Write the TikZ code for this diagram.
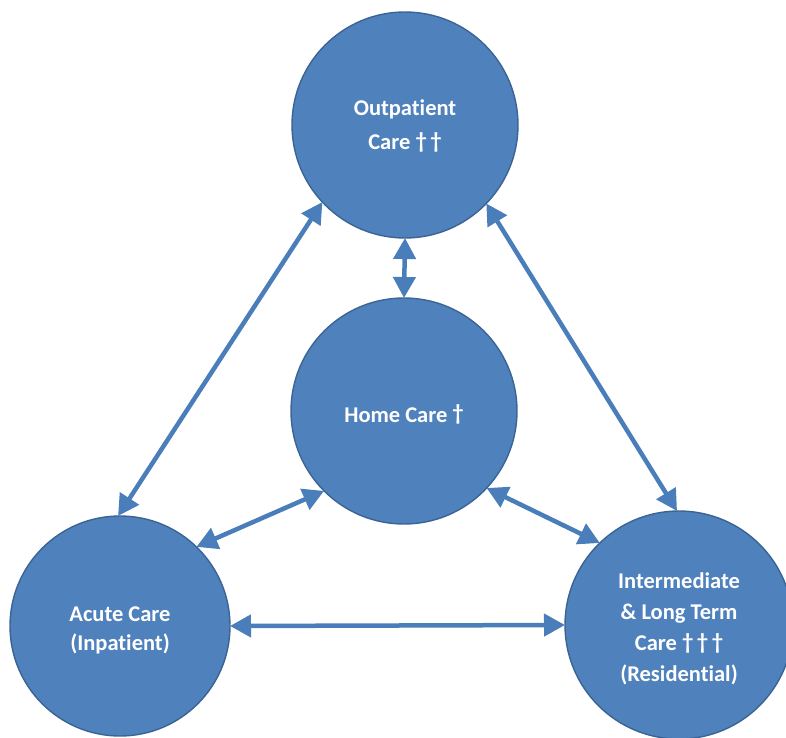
\documentclass[tikz,border=0pt]{standalone}
\usepackage{fontspec}
\setmainfont[Ligatures={NoCommon}]{Carlito}
\usetikzlibrary{arrows.meta}
\definecolor{cfill}{HTML}{4F81BD}
\definecolor{cline}{HTML}{3A6494}
\definecolor{carrow}{HTML}{4A7EBB}
\begin{document}
\begin{tikzpicture}[x=1pt,y=1pt,
  care/.style={circle,draw=cline,line width=1.4pt,fill=cfill,inner sep=0pt,outer sep=0pt},
  lbl/.style={text=white,align=center,inner sep=0pt},
  arr/.style={draw=carrow,line width=4.5pt,
    {Triangle[length=21pt,width=22pt]}-{Triangle[length=21pt,width=22pt]}}]
\useasboundingbox (0,0) rectangle (786,737);
\node[care,minimum size=226pt] (out) at (405,612) {};
\node[care,minimum size=226pt] (home) at (404,326) {};
\node[care,minimum size=220pt] (acute) at (120,111) {};
\node[care,minimum size=228pt] (inter) at (679,112) {};
\node[lbl,font=\fontsize{22.5}{34}\selectfont\bfseries] (outt) at ([yshift=-1pt]out.center) {Outpatient\\Care \raisebox{1pt}{†\,†}};
\node[lbl,font=\fontsize{22.5}{30}\selectfont\bfseries] (homet) at ([yshift=-3pt]home.center) {Home Care \raisebox{2pt}{†}};
\node[lbl,font=\fontsize{22.5}{29}\selectfont\bfseries] (acutet) at ([yshift=-4pt]acute.center) {Acute Care\\(Inpatient)};
\node[lbl,font=\fontsize{22.5}{31}\selectfont\bfseries] (intert) at ([yshift=-4pt]inter.center) {Intermediate\\\& Long Term\\Care \raisebox{1pt}{†\,†\,†}\\(Residential)};
\draw[arr] (out.270) -- (home.90);
\draw[arr] (out.223) -- (acute.91);
\draw[arr] (out.316) -- (inter.91);
\draw[arr] (home.225) -- (acute.46);
\draw[arr] (home.317) -- (inter.134);
\draw[arr] (acute.0) -- (inter.180);
\end{tikzpicture}
\end{document}
